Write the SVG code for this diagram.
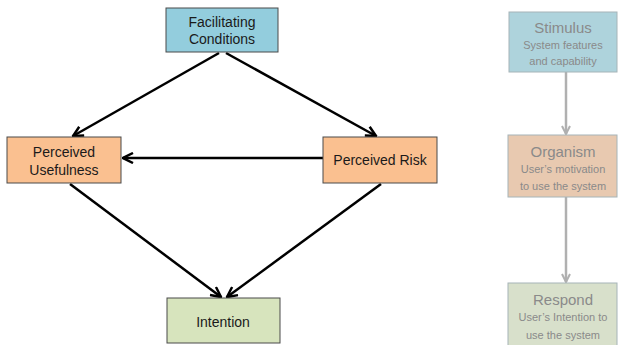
<svg xmlns="http://www.w3.org/2000/svg" width="619" height="345" viewBox="0 0 619 345">
<style>
.box{stroke:#4a4a4a;stroke-width:1}
.t{font-family:"Liberation Sans",Arial,sans-serif;font-size:14px;fill:#1a1a1a;text-anchor:middle}
.fb{stroke:#a6b4b8;stroke-width:1}
.ft{font-family:"Liberation Sans",Arial,sans-serif;fill:#8a8a8a;text-anchor:middle}
.big{font-size:15px}
.sm{font-size:11px}
.c{stroke:#000;stroke-width:2.5;fill:none;marker-end:url(#ah)}
.g{stroke:#b0b0b0;stroke-width:2.5;fill:none;marker-end:url(#gh)}
</style>
<defs>
<marker id="ah" viewBox="0 0 10 10" refX="9" refY="5" markerWidth="5" markerHeight="5" orient="auto" markerUnits="strokeWidth">
<path d="M1,1 L9,5 L1,9" fill="none" stroke="#000" stroke-width="2"/>
</marker>
<marker id="gh" viewBox="0 0 10 10" refX="9" refY="5" markerWidth="4" markerHeight="4" orient="auto" markerUnits="strokeWidth">
<path d="M1,1 L9,5 L1,9" fill="none" stroke="#b0b0b0" stroke-width="2"/>
</marker>
</defs>
<rect width="619" height="345" fill="#fff"/>
<g id="connectors">
<line class="c" x1="219" y1="53" x2="73" y2="136"/>
<line class="c" x1="226" y1="53" x2="376" y2="136"/>
<line class="c" x1="323" y1="158" x2="123" y2="158"/>
<line class="c" x1="70" y1="184" x2="221" y2="297"/>
<line class="c" x1="381" y1="184" x2="227" y2="297"/>
<line class="g" x1="566" y1="72" x2="566" y2="134"/>
<line class="g" x1="566" y1="197" x2="566" y2="282"/>
</g>
<g id="facilitating">
<rect class="box" x="166" y="8" width="112" height="44" fill="#93cddd"/>
<text class="t" x="222" y="27">Facilitating</text>
<text class="t" x="222" y="44">Conditions</text>
</g>
<g id="usefulness">
<rect class="box" x="7" y="137" width="114" height="46" fill="#fac090"/>
<text class="t" x="64" y="157">Perceived</text>
<text class="t" x="64" y="175">Usefulness</text>
</g>
<g id="risk">
<rect class="box" x="323" y="137" width="114" height="46" fill="#fac090"/>
<text class="t" x="380" y="165">Perceived Risk</text>
</g>
<g id="intention">
<rect class="box" x="167" y="298" width="113" height="45" fill="#d7e4bd"/>
<text class="t" x="223" y="327">Intention</text>
</g>
<g id="stimulus">
<rect class="fb" x="509" y="12" width="108" height="60" fill="#aed3dc"/>
<text class="ft big" x="563" y="33">Stimulus</text>
<text class="ft sm" x="563" y="49">System features</text>
<text class="ft sm" x="563" y="65">and capability</text>
</g>
<g id="organism">
<rect class="fb" x="508" y="135" width="109" height="62" fill="#e8c9b0" stroke="#c4ad9c"/>
<text class="ft big" x="563" y="157">Organism</text>
<text class="ft sm" x="563" y="173">User’s motivation</text>
<text class="ft sm" x="563" y="190">to use the system</text>
</g>
<g id="respond">
<rect class="fb" x="508" y="283" width="109" height="64" fill="#d8e0cb" stroke="#bcc4b0"/>
<text class="ft big" x="563" y="305">Respond</text>
<text class="ft sm" x="563" y="321">User’s Intention to</text>
<text class="ft sm" x="563" y="339">use the system</text>
</g>
</svg>
